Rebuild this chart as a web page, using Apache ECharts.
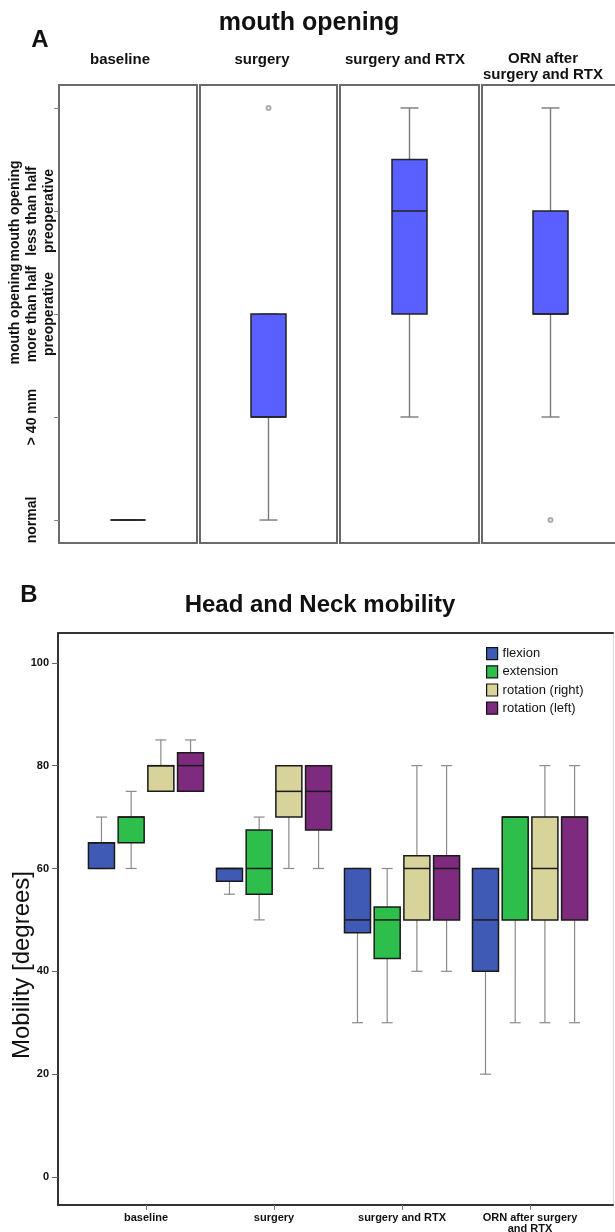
<!DOCTYPE html>
<html><head><meta charset="utf-8">
<script src="https://cdn.jsdelivr.net/npm/echarts@6/dist/echarts.min.js"></script>
<style>html,body{margin:0;padding:0;background:#fff}#c{width:615px;height:1232px}</style>
</head><body><div id="c"></div>
<script>
// ---------- Panel A: mouth opening ----------
const mouthPanels = ['baseline', 'surgery', 'surgery and RTX', 'ORN after\nsurgery and RTX'];
const mouthLevels = ['normal', '> 40 mm', 'mouth opening\nmore than half\npreoperative', 'mouth opening\nless than half\npreoperative', ''];
const mouthLevelTicks = [0, 1, 2, 3, 4];
// [min, Q1, median, Q3, max] (ordinal levels)
const mouthBoxes = [[0, 0, 0, 0, 0], [0, 1, 1, 2, 2], [1, 2, 3, 3.5, 4], [1, 2, 2, 3, 4]];
const mouthOutliers = [[], [4], [], [0]];

// ---------- Panel B: head and neck mobility ----------
const mobilityCategories = ['baseline', 'surgery', 'surgery and RTX', 'ORN after surgery\nand RTX'];
const mobilitySeries = ['flexion', 'extension', 'rotation (right)', 'rotation (left)'];
// [min, Q1, median, Q3, max] per category
const flexion = [[60, 60, 65, 65, 70], [55, 57.5, 60, 60, 60], [30, 47.5, 50, 60, 60], [20, 40, 50, 60, 60]];
const extension = [[60, 65, 70, 70, 75], [50, 55, 60, 67.5, 70], [30, 42.5, 50, 52.5, 60], [30, 50, 70, 70, 70]];
const rotationRight = [[75, 75, 80, 80, 85], [60, 70, 75, 80, 80], [40, 50, 60, 62.5, 80], [30, 50, 60, 70, 80]];
const rotationLeft = [[75, 75, 80, 82.5, 85], [60, 67.5, 75, 80, 80], [40, 50, 60, 62.5, 80], [30, 50, 70, 70, 80]];
const mobilityTicks = [0, 20, 40, 60, 80, 100];
const mobilityCatTicks = [0, 1, 2, 3];

const FONT = 'Liberation Sans, Arial, Helvetica, sans-serif';
const mobilityData = [flexion, extension, rotationRight, rotationLeft];
const mobilityColors = ['#3F5AB4', '#2EBE4B', '#D8D29B', '#7E2A7F'];

function boxRender(o) {
  return function (params, api) {
    const cx = api.coord([api.value(0), 0])[0] + o.offset(params.seriesIndex);
    const y = i => api.coord([0, api.value(i)])[1];
    const yLow = y(1), yQ1 = y(2), yMed = y(3), yQ3 = y(4), yHigh = y(5);
    const hw = o.boxW / 2, cw = o.capW / 2;
    const ws = { stroke: o.whisker, lineWidth: o.wLine };
    return {
      type: 'group',
      children: [
        { type: 'line', shape: { x1: cx, y1: yHigh, x2: cx, y2: yQ3 }, style: ws },
        { type: 'line', shape: { x1: cx, y1: yQ1, x2: cx, y2: yLow }, style: ws },
        { type: 'line', shape: { x1: cx - cw, y1: yHigh, x2: cx + cw, y2: yHigh }, style: ws },
        { type: 'line', shape: { x1: cx - cw, y1: yLow, x2: cx + cw, y2: yLow }, style: ws },
        { type: 'rect', shape: { x: cx - hw, y: yQ3, width: o.boxW, height: yQ1 - yQ3 },
          style: { fill: api.visual('color'), stroke: o.boxStroke, lineWidth: o.bLine } },
        { type: 'line', shape: { x1: cx - hw, y1: yMed, x2: cx + hw, y2: yMed },
          style: { stroke: o.boxStroke, lineWidth: o.bLine } }
      ]
    };
  };
}

const panelRects = [[59, 138], [200, 137], [340, 139], [482, 137]];
const headerX = [120, 262, 405, 543];

const grids = [], xAxes = [], yAxes = [], series = [];
panelRects.forEach((r, i) => {
  grids.push({ left: r[0], width: r[1], top: 85, height: 458, show: true, outerBoundsMode: 'none',
    borderColor: '#6a6a6a', borderWidth: 2, backgroundColor: '#fff' });
  xAxes.push({ type: 'value', gridIndex: i, min: -0.5, max: 0.5, show: false });
  yAxes.push({ type: 'value', gridIndex: i, min: -0.223, max: 4.223, position: 'left',
    axisLine: { show: false, onZero: false }, splitLine: { show: false },
    axisTick: { show: i === 0, length: 5, customValues: mouthLevelTicks, lineStyle: { color: '#888', width: 1 } },
    axisLabel: { show: i === 0, customValues: mouthLevelTicks, formatter: v => mouthLevels[Math.round(v)],
      rotate: 90, align: 'center', verticalAlign: 'middle', margin: 27,
      fontFamily: FONT, fontWeight: 'bold', fontSize: 14, lineHeight: 17, color: '#111' } });
  series.push({ type: 'custom', xAxisIndex: i, yAxisIndex: i, itemStyle: { color: '#5A5FFF' },
    renderItem: boxRender({ offset: () => 0, boxW: 35, capW: 18, whisker: '#7a7a7a', wLine: 1.4, boxStroke: '#222', bLine: 1.5 }),
    encode: { x: 0, y: [1, 2, 3, 4, 5] },
    data: [[0].concat(mouthBoxes[i])], z: 3 });
  if (mouthOutliers[i].length) {
    series.push({ type: 'scatter', xAxisIndex: i, yAxisIndex: i, symbol: 'emptyCircle', symbolSize: 4,
      itemStyle: { color: '#999', borderColor: '#999', borderWidth: 1 },
      data: mouthOutliers[i].map(v => [0, v]), z: 4 });
  }
});

// Panel B grid (index 4)
grids.push({ left: 58, top: 633, right: 2, bottom: 27, show: false, outerBoundsMode: 'none', containLabel: false });
xAxes.push({ type: 'value', gridIndex: 4, min: -0.6875, max: 3.648, position: 'bottom',
  axisLine: { show: true, onZero: false, lineStyle: { color: '#333', width: 2 } }, splitLine: { show: false },
  axisTick: { show: true, length: 5, customValues: mobilityCatTicks, lineStyle: { color: '#777', width: 1 } },
  axisLabel: { customValues: mobilityCatTicks, formatter: v => mobilityCategories[Math.round(v)], margin: 7,
    fontFamily: FONT, fontWeight: 'bold', fontSize: 11, lineHeight: 11, color: '#111' } });
xAxes.push({ type: 'value', gridIndex: 4, min: -0.6875, max: 3.648, position: 'top',
  axisLine: { show: true, onZero: false, lineStyle: { color: '#333', width: 2 } },
  axisTick: { show: false }, axisLabel: { show: false }, splitLine: { show: false } });
yAxes.push({ type: 'value', gridIndex: 4, min: -5.45, max: 105.8, position: 'left',
  axisLine: { show: true, onZero: false, lineStyle: { color: '#333', width: 2 } }, splitLine: { show: false },
  axisTick: { show: true, length: 6, customValues: mobilityTicks, lineStyle: { color: '#666', width: 1 } },
  axisLabel: { customValues: mobilityTicks, margin: 9, fontFamily: FONT, fontWeight: 'bold', fontSize: 11, color: '#111' },
  name: 'Mobility [degrees]', nameLocation: 'middle', nameGap: 24, nameMoveOverlap: false,
  nameTextStyle: { fontFamily: FONT, fontSize: 24, color: '#111', padding: [0, 92, 0, 0] } });
yAxes.push({ type: 'value', gridIndex: 4, min: -5.45, max: 105.8, position: 'right',
  axisLine: { show: true, onZero: false, lineStyle: { color: '#ddd', width: 1 } },
  axisTick: { show: false }, axisLabel: { show: false }, splitLine: { show: false } });

mobilitySeries.forEach((name, s) => {
  series.push({ type: 'custom', name, xAxisIndex: 4, yAxisIndex: 4,
    itemStyle: { color: mobilityColors[s] },
    renderItem: boxRender({ offset: () => (s - 1.5) * 29.7, boxW: 26, capW: 11, whisker: '#8a8a8a', wLine: 1.2, boxStroke: '#1a1a1a', bLine: 1.5 }),
    encode: { x: 0, y: [1, 2, 3, 4, 5] },
    data: mobilityData[s].map((d, i) => [i].concat(d)), z: 3 });
});

const txt = (text, x, y, font, extra) => ({ type: 'text', x, y, z: 10,
  style: Object.assign({ text, font, fill: '#111', align: 'center', verticalAlign: 'middle',
    textAlign: 'center', textVerticalAlign: 'middle' }, extra || {}) });

const graphic = [
  txt('A', 40, 40, 'bold 24px ' + FONT),
  txt('mouth opening', 309, 23, 'bold 25px ' + FONT),
  txt('B', 29, 595, 'bold 24px ' + FONT),
  txt('Head and Neck mobility', 320, 605, 'bold 24px ' + FONT)
];
mouthPanels.forEach((p, i) => {
  const multi = p.indexOf('\n') >= 0;
  graphic.push(txt(p, headerX[i], multi ? 67 : 60, 'bold 15px ' + FONT, { lineHeight: 16 }));
});

const chart = echarts.init(document.getElementById('c'), null, { renderer: 'canvas' });
chart.setOption({
  backgroundColor: '#fff',
  animation: false,
  grid: grids, xAxis: xAxes, yAxis: yAxes, series,
  legend: { orient: 'vertical', left: 486, top: 647, padding: 0, itemWidth: 11, itemHeight: 12, itemGap: 5,
    icon: 'rect', selectedMode: false,
    textStyle: { fontFamily: FONT, fontSize: 13, color: '#111' },
    data: mobilitySeries.map(n => ({ name: n, itemStyle: { borderColor: '#111', borderWidth: 1.2 } })) },
  graphic
});
</script></body></html>
